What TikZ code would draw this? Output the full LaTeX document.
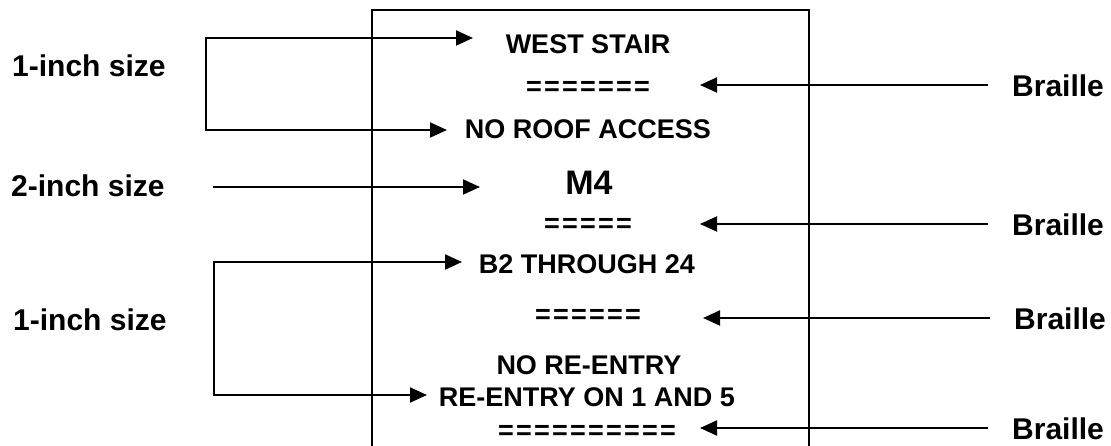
\documentclass[tikz,border=0pt]{standalone}
\usepackage{fontspec}
\setmainfont{Liberation Sans}
\usetikzlibrary{arrows.meta}
\newcommand{\eqc}{\makebox[18pt]{=}}
\begin{document}
\begin{tikzpicture}[x=1pt,y=-1pt,
  lbl/.style={font=\fontsize{30}{34}\selectfont\bfseries, inner sep=0pt, anchor=west},
  sign/.style={font=\fontsize{27}{31}\selectfont\bfseries, inner sep=0pt},
  big/.style={font=\fontsize{34}{38}\selectfont\bfseries, inner sep=0pt},
  eqs/.style={font=\fontsize{27}{31}\selectfont\bfseries, inner sep=0pt},
  tip/.tip={Triangle[length=17pt,width=15pt]},
  arr/.style={line width=2pt, -tip},
  arrr/.style={line width=2pt, tip-tip},
  ln/.style={line width=2pt}]
\useasboundingbox (0,0) rectangle (1111,446);
% sign frame
\draw[ln] (372,446) -- (372,10) -- (809,10) -- (809,446);
% sign texts
\node[sign] (ws) at (588,44) {WEST STAIR};
\node[eqs] (e1) at (588,88) {\eqc\eqc\eqc\eqc\eqc\eqc\eqc};
\node[sign] (nr) at (588,129) {NO ROOF ACCESS};
\node[big] (m4) at (589,183) {M4};
\node[eqs] (e2) at (588,225) {\eqc\eqc\eqc\eqc\eqc};
\node[sign] (b2) at (587,264) {B2 THROUGH 24};
\node[eqs] (e3) at (588,316) {\eqc\eqc\eqc\eqc\eqc\eqc};
\node[sign] (ne) at (589,365) {NO RE-ENTRY};
\node[sign] (re) at (587,397) {RE-ENTRY ON 1 AND 5};
\node[eqs] (e4) at (587,432) {\eqc\eqc\eqc\eqc\eqc\eqc\eqc\eqc\eqc\eqc};
% left labels
\node[lbl] (l1) at (12,66) {1-inch size};
\node[lbl] (l2) at (11,186) {2-inch size};
\node[lbl] (l3) at (13,320) {1-inch size};
% right labels
\node[lbl] (br1) at (1012,86) {Braille};
\node[lbl] (br2) at (1012,225) {Braille};
\node[lbl] (br3) at (1014,319) {Braille};
\node[lbl] (br4) at (1012,429) {Braille};
% left connectors
\coordinate (t1) at (473,38);
\coordinate (k1) at (206,38);
\coordinate (k2) at (206,130);
\coordinate (t2) at (447,130);
\draw[arrr] (t1) -- (k1) -- (k2) -- (t2);
\coordinate (s2) at (213,187);
\coordinate (t3) at (480,187);
\draw[arr] (s2) -- (t3);
\coordinate (t4) at (462,262);
\coordinate (k3) at (214,262);
\coordinate (k4) at (214,395);
\coordinate (t5) at (427,395);
\draw[arrr] (t4) -- (k3) -- (k4) -- (t5);
% right connectors
\coordinate (r1) at (700,85);
\coordinate (r2) at (700,224);
\coordinate (r3) at (703,318);
\coordinate (r4) at (700,428);
\draw[arr] ([xshift=-24pt]br1.west |- r1) -- (r1);
\draw[arr] ([xshift=-24pt]br2.west |- r2) -- (r2);
\draw[arr] ([xshift=-24pt]br3.west |- r3) -- (r3);
\draw[arr] ([xshift=-24pt]br4.west |- r4) -- (r4);
\end{tikzpicture}
\end{document}
